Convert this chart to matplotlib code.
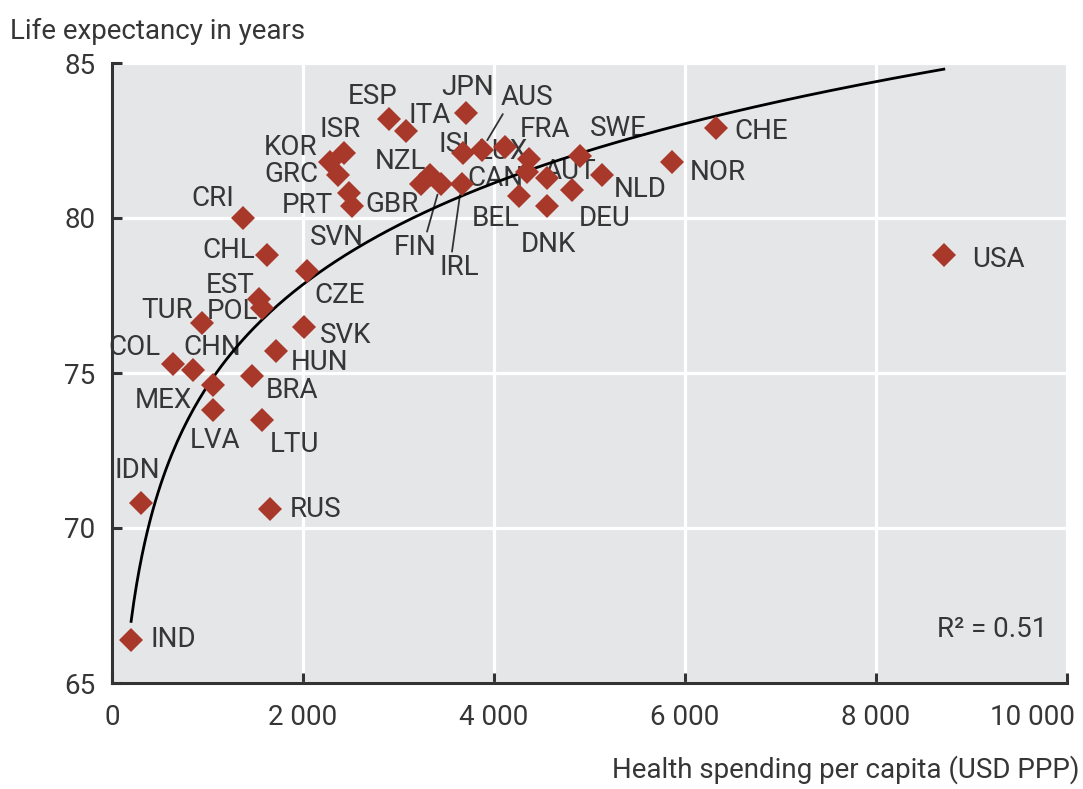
import numpy as np
import matplotlib
matplotlib.use("Agg")
import matplotlib.pyplot as plt
import matplotlib.transforms as mtransforms

plt.rcParams['font.family'] = ['Roboto', 'DejaVu Sans']

# ---------------- data ----------------
countries = ["IND", "IDN", "RUS", "LTU", "LVA", "MEX", "COL", "CHN", "TUR", "POL",
             "EST", "CHL", "CRI", "CZE", "SVK", "HUN", "BRA", "SVN", "PRT", "GRC",
             "KOR", "ISR", "GBR", "NZL", "ESP", "ITA", "JPN", "AUS", "ISL", "LUX",
             "CAN", "FRA", "AUT", "SWE", "NLD", "NOR", "CHE", "USA", "BEL", "DNK",
             "DEU", "FIN", "IRL"]
spending = [200, 300, 1650, 1570, 1060, 1060, 640, 850, 940, 1570,
            1540, 1620, 1370, 2040, 2010, 1720, 1470, 2510, 2480, 2370,
            2280, 2430, 3240, 3330, 2900, 3080, 3710, 3870, 3680, 4370,
            4350, 4120, 4550, 4900, 5130, 5860, 6320, 8710, 4260, 4550,
            4820, 3440, 3660]
life_exp = [66.4, 70.8, 70.6, 73.5, 73.8, 74.6, 75.3, 75.1, 76.6, 77.1,
            77.4, 78.8, 80.0, 78.3, 76.5, 75.7, 74.9, 80.4, 80.8, 81.4,
            81.8, 82.1, 81.1, 81.4, 83.2, 82.8, 83.4, 82.2, 82.1, 81.9,
            81.5, 82.3, 81.3, 82.0, 81.4, 81.8, 82.9, 78.8, 80.7, 80.4,
            80.9, 81.1, 81.1]
# logarithmic trend line: life = trend_a + trend_b * ln(spending)
trend_a = 41.98
trend_b = 4.72
x_ticks = [0, 2000, 4000, 6000, 8000, 10000]
x_tick_labels = ["0", "2 000", "4 000", "6 000", "8 000", "10 000"]
y_ticks = [65, 70, 75, 80, 85]
r2_text = "R\u00b2 = 0.51"

# ---------------- layout (label offsets in pixels, ha) ----------------
label_pos = {
    "IND": (19, 0, "left"), "IDN": (-3, 33, "center"), "RUS": (20, 0, "left"),
    "LTU": (33, -25, "center"), "LVA": (2, -30, "center"), "MEX": (-21, -15, "right"),
    "COL": (-13, 16, "right"), "CHN": (19, 22, "center"), "TUR": (-9, 13, "right"),
    "POL": (-4, -4, "right"), "EST": (-29, 13, "center"), "CHL": (-12, 5, "right"),
    "CRI": (-30, 20, "center"), "CZE": (8, -25, "left"), "SVK": (16, -9, "left"),
    "HUN": (14, -11, "left"), "BRA": (13, -14, "left"), "SVN": (-15, -32, "center"),
    "PRT": (-16, -12, "right"), "GRC": (-20, 0, "right"), "KOR": (-12, 15, "right"),
    "ISR": (-4, 23, "center"), "GBR": (-29, -21, "center"), "NZL": (-30, 13, "center"),
    "ESP": (-16, 22, "center"), "ITA": (24, 16, "center"), "JPN": (1, 25, "center"),
    "AUS": (45, 52, "center"), "ISL": (-5, 8, "center"), "LUX": (-26, 8, "center"),
    "CAN": (-32, -7, "center"), "FRA": (40, 17, "center"), "AUT": (23, 6, "center"),
    "SWE": (38, 28, "center"), "NLD": (38, -15, "center"), "NOR": (18, -10, "left"),
    "CHE": (19, -3, "left"), "USA": (28, -4, "left"), "BEL": (-23, -22, "center"),
    "DNK": (2, -39, "center"), "DEU": (32, -28, "center"), "FIN": (-25, -64, "center"),
    "IRL": (-2, -84, "center"),
}
leaders = {"AUS": (0.08, 0.0), "FIN": (0.75, 1.0), "IRL": (0.3, 1.0)}

W, H = 1083, 789
fig = plt.figure(figsize=(W / 100, H / 100), dpi=100)
ax = fig.add_axes([112 / W, 1 - 683 / H, (1067 - 112) / W, (683 - 63) / H])

text_col = "#363636"
axis_col = "#333333"
marker_col = "#a8382a"
fs = 20

ax.set_facecolor("#e5e6e7")
ax.set_xlim(0, 10000)
ax.set_ylim(65, 85)
ax.set_xticks(x_ticks)
ax.set_xticklabels(x_tick_labels)
ax.set_yticks(y_ticks)
ax.grid(True, color="white", linewidth=2.3, zorder=0)
ax.set_axisbelow(True)
for s in ["top", "right"]:
    ax.spines[s].set_visible(False)
for s in ["left", "bottom"]:
    ax.spines[s].set_color(axis_col)
    ax.spines[s].set_linewidth(2.2)
ax.tick_params(axis="both", direction="in", length=7, width=2.2, color=axis_col,
               labelsize=fs, labelcolor=text_col)
ax.tick_params(axis="y", pad=12)
ax.tick_params(axis="x", pad=15)
xt = ax.get_xticklabels()
xt[-1].set_horizontalalignment("right")
offset = mtransforms.ScaledTranslation(8 / 100, 0, fig.dpi_scale_trans)
xt[-1].set_transform(xt[-1].get_transform() + offset)

# trend line
xs = np.array(spending, dtype=float)
xx = np.linspace(xs.min(), xs.max(), 300)
ax.plot(xx, trend_a + trend_b * np.log(xx), color="black", linewidth=2.0, zorder=3)

# labels (drawn under markers)
for c, xv, yv in zip(countries, spending, life_exp):
    dx, dy, ha = label_pos[c]
    kw = dict(xytext=(dx, dy), textcoords="offset pixels", ha=ha, va="center",
              fontsize=fs, color=text_col, zorder=2)
    if c in leaders:
        kw["arrowprops"] = dict(arrowstyle="-", color="#333333", lw=1.3,
                                shrinkA=0, shrinkB=8, relpos=leaders[c])
    ax.annotate(c, (xv, yv), **kw)

ax.plot(spending, life_exp, linestyle="none", marker="D", markersize=12,
        color=marker_col, markeredgewidth=0, zorder=4)

ax.text(0.979, 0.0855, r2_text, transform=ax.transAxes, ha="right", va="center",
        fontsize=fs, color=text_col)

fig.text(10 / W, 1 - 31 / H, "Life expectancy in years", ha="left", va="center",
         fontsize=fs, color=text_col)
fig.text(1080 / W, 1 - 770 / H, "Health spending per capita (USD PPP)", ha="right",
         va="center", fontsize=fs, color=text_col)

fig.savefig("out.png", dpi=100)
